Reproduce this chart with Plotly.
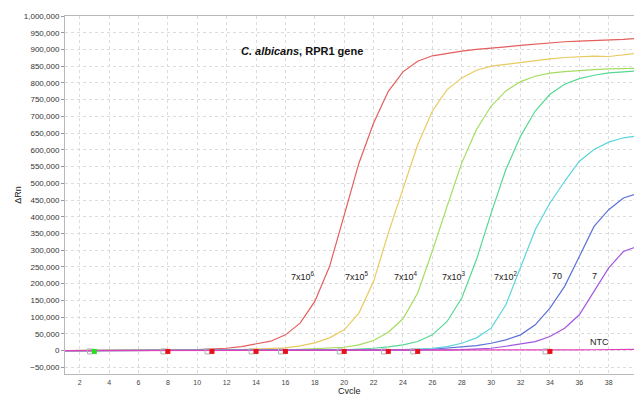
import plotly.graph_objects as go

cycles = list(range(1, 41))

s_7e6 = [0, 0, 0, 0, 500, 800, 1000, 1500, 2000, 3000,
         4500, 7000, 12000, 19000, 28000, 47000, 82000, 147000, 251000, 405000,
         560000, 680000, 775000, 833000, 865000, 881000, 889000, 895000, 900000, 905000,
         908000, 912000, 916000, 920000, 923000, 925000, 926000, 928000, 930000, 933000]
s_7e5 = [0, 0, 0, 0, 0, 0, 0, 500, 800, 1000,
         1500, 2000, 3000, 4000, 5000, 8000, 14000, 23000, 38000, 62000,
         112000, 207000, 351000, 485000, 615000, 716000, 780000, 815000, 838000, 850000,
         856000, 862000, 867000, 872000, 876000, 879000, 880000, 879000, 885000, 889000]
s_7e4 = [0, 0, 0, 0, 0, 0, 0, 0, 0, 0,
         0, 0, 500, 800, 1000, 2000, 3500, 5000, 7000, 10000,
         17000, 30000, 55000, 95000, 172000, 298000, 431000, 561000, 661000, 731000,
         776000, 804000, 820000, 829000, 834000, 838000, 840000, 842000, 843000, 844000]
s_7e3 = [0, 0, 0, 0, 0, 0, 0, 0, 0, 0,
         0, 0, 0, 0, 0, 500, 800, 1000, 1500, 2500,
         4000, 7000, 11000, 17000, 27000, 47000, 87000, 157000, 272000, 411000,
         541000, 641000, 716000, 766000, 796000, 813000, 823000, 830000, 833000, 836000]
s_7e2 = [0, 0, 0, 0, 0, 0, 0, 0, 0, 0,
         0, 0, 0, 0, 0, 0, 0, 0, 500, 800,
         1000, 1000, 2000, 3000, 5000, 7000, 12000, 22000, 38000, 67000,
         137000, 252000, 361000, 441000, 506000, 566000, 601000, 623000, 636000, 642000]
s_70 = [0, 0, 0, 0, 0, 0, 0, 0, 0, 0,
        0, 0, 0, 0, 0, 0, 0, 0, 0, 0,
        0, 500, 800, 1000, 2000, 4000, 7000, 10000, 15000, 22000,
        32000, 47000, 77000, 127000, 192000, 281000, 371000, 421000, 456000, 470000]
s_7 = [0, 0, 0, 0, 0, 0, 0, 0, 0, 0,
       0, 0, 0, 0, 0, 0, 0, 0, 0, 0,
       0, 0, 0, 500, 800, 1000, 2000, 3000, 5000, 7000,
       13000, 20000, 27000, 42000, 67000, 107000, 177000, 247000, 296000, 312000]
s_ntc = [0, 0, 0, 0, 0, 0, 0, 0, 0, 0,
         0, 0, 0, 0, 0, 0, 0, 0, 0, 0,
         0, 0, 0, 0, 0, 200, 400, 600, 800, 1000,
         1200, 1400, 1600, 1800, 2000, 2200, 2500, 2800, 3000, 3500]

series_names = ["7x10<sup>6</sup>", "7x10<sup>5</sup>", "7x10<sup>4</sup>", "7x10<sup>3</sup>",
                "7x10<sup>2</sup>", "70", "7", "NTC"]
series_values = [s_7e6, s_7e5, s_7e4, s_7e3, s_7e2, s_70, s_7, s_ntc]
series_colors = ["#e35e5c", "#e8ca60", "#a4dc60", "#56d892", "#5cd4dc", "#5c70d8", "#a256e0", "#e040b8"]

label_x = [17.2, 20.9, 24.2, 27.5, 31.0, 34.5, 37.0, 37.4]
label_y = [223000, 223000, 223000, 223000, 223000, 223000, 223000, 27000]

red_marker_cycles = [8, 11, 14, 16, 20, 23, 25, 34]
green_marker_cycles = [3]
marker_level = -2500

fig = go.Figure()

for name, vals, col in zip(series_names, series_values, series_colors):
    fig.add_trace(go.Scatter(x=cycles, y=vals, mode="lines", name=name,
                             line=dict(color=col, width=1.2), showlegend=False))

# threshold markers: grey open box + filled square
all_marker_cycles = red_marker_cycles + green_marker_cycles
fig.add_trace(go.Scatter(x=[c - 0.3 for c in all_marker_cycles],
                         y=[marker_level] * len(all_marker_cycles), mode="markers",
                         marker=dict(symbol="square-open", size=5, color="#b0b0b0", line=dict(width=1)),
                         showlegend=False, cliponaxis=False))
fig.add_trace(go.Scatter(x=red_marker_cycles, y=[marker_level] * len(red_marker_cycles),
                         mode="markers", marker=dict(symbol="square", size=5, color="#e8101a"),
                         showlegend=False, cliponaxis=False))
fig.add_trace(go.Scatter(x=green_marker_cycles, y=[marker_level] * len(green_marker_cycles),
                         mode="markers", marker=dict(symbol="square", size=5, color="#20e020"),
                         showlegend=False, cliponaxis=False))

for name, lx, ly in zip(series_names, label_x, label_y):
    fig.add_annotation(x=lx, y=ly, text=name, showarrow=False,
                       font=dict(family="Liberation Sans, Arial", size=9, color="#222"))

fig.add_annotation(x=17.1, y=894000, text="<b><i>C. albicans</i>, RPR1 gene</b>", showarrow=False,
                   font=dict(family="Liberation Sans, Arial", size=11, color="#111"))

fig.add_annotation(xref="paper", yref="paper", x=0.5, y=-0.048, text="Cycle", showarrow=False,
                   font=dict(family="Liberation Sans, Arial", size=9, color="#222"), yanchor="middle")
fig.add_annotation(xref="paper", yref="paper", x=-0.083, y=0.5, text="ΔRn", showarrow=False,
                   textangle=-90, font=dict(family="Liberation Sans, Arial", size=9, color="#222"),
                   xanchor="center", yanchor="middle")

fig.update_xaxes(range=[1, 39.72], tickmode="array", tickvals=list(range(2, 40, 2)),
                 tickfont=dict(family="Liberation Sans, Arial", size=7, color="#444"),
                 showgrid=True, gridcolor="#dcdcdc", griddash="dot", gridwidth=1,
                 showline=True, linecolor="#b8b8b8", linewidth=1, mirror=True,
                 ticks="", zeroline=False, ticklabelstandoff=2)
fig.update_yaxes(range=[-70000, 1000000], tickmode="array", tickvals=list(range(-50000, 1000001, 50000)),
                 tickformat=",d",
                 tickfont=dict(family="Liberation Sans, Arial", size=8, color="#333"),
                 showgrid=True, gridcolor="#dcdcdc", griddash="dot", gridwidth=1,
                 showline=True, linecolor="#b8b8b8", linewidth=1, mirror=True,
                 ticks="outside", ticklen=3, tickcolor="#999", zeroline=False)

fig.update_layout(width=634, height=394, margin=dict(l=65, r=0, t=16, b=20),
                  paper_bgcolor="white", plot_bgcolor="white")

fig.write_html("out.html", config={"displayModeBar": False},
               post_script="document.body.style.margin='0';document.body.style.overflow='hidden';")
